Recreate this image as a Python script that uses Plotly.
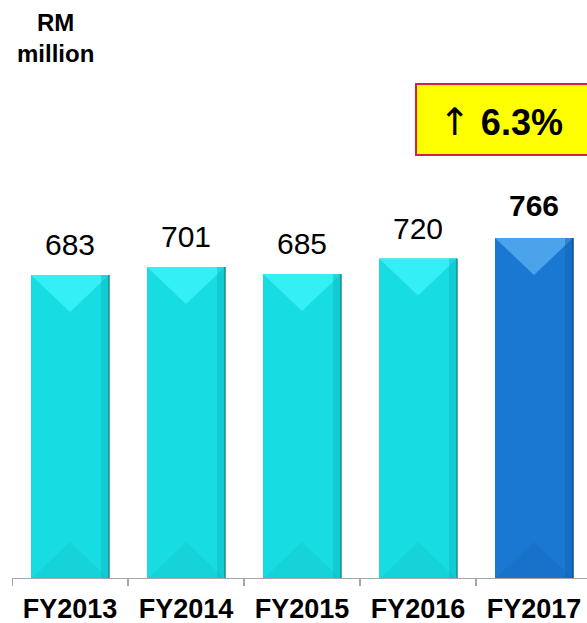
import plotly.graph_objects as go

# Revenue by financial year (RM million)
years = ["FY2013", "FY2014", "FY2015", "FY2016", "FY2017"]
revenue = [683, 701, 685, 720, 766]
growth_pct = "6.3%"

FONT = "Liberation Sans, Arial, sans-serif"

# Figure geometry
W, H = 587, 623
M_L, M_R, M_T, M_B = 12, 0, 60, 44
plot_w = W - M_L - M_R
plot_h = H - M_T - M_B
px_per_cat = 116.0
x_lo = -0.5
x_hi = x_lo + plot_w / px_per_cat
y_max = 1166.0
px_per_unit = plot_h / y_max
bar_w = 78 / px_per_cat

cyan = dict(face="#17dde3", top="#34eff5", bottom="#16d3d9", edge="#10b6be", line="#1b8a92")
blue = dict(face="#1a78d2", top="#4ba3ec", bottom="#1872ca", edge="#1262b2", line="#0d4a8a")
palette = [cyan] * (len(years) - 1) + [blue]

fig = go.Figure()
fig.add_trace(go.Bar(
    x=list(range(len(years))),
    y=revenue,
    width=bar_w,
    marker=dict(color=[p["face"] for p in palette], line=dict(width=0)),
    hoverinfo="skip",
))

shapes = []
annotations = []
bevel = 37 / px_per_unit          # depth of the bevel triangles in data units
edge_w = 8 / px_per_cat           # darker right edge strip
for i, (v, p) in enumerate(zip(revenue, palette)):
    x0, x1 = i - bar_w / 2, i + bar_w / 2
    # top bevel (lighter)
    shapes.append(dict(type="path", xref="x", yref="y",
                       path=f"M {x0} {v} L {x1} {v} L {i} {v - bevel} Z",
                       fillcolor=p["top"], line=dict(width=0), layer="above"))
    # bottom bevel (slightly darker)
    shapes.append(dict(type="path", xref="x", yref="y",
                       path=f"M {x0} 0 L {x1} 0 L {i} {bevel} Z",
                       fillcolor=p["bottom"], line=dict(width=0), layer="above"))
    # right shaded edge
    shapes.append(dict(type="rect", xref="x", yref="y",
                       x0=x1 - edge_w, x1=x1, y0=0, y1=v,
                       fillcolor=p["edge"], opacity=0.45, line=dict(width=0), layer="above"))
    shapes.append(dict(type="line", xref="x", yref="y",
                       x0=x1, x1=x1, y0=0, y1=v,
                       line=dict(color=p["line"], width=1.5), layer="above"))
    # value label
    last = i == len(revenue) - 1
    annotations.append(dict(
        x=i, y=v, xref="x", yref="y", xanchor="center", yanchor="bottom", showarrow=False,
        yshift=12 if not last else 14,
        text=f"<b>{v}</b>" if last else str(v),
        font=dict(family=FONT, size=30, color="#000000"),
    ))


def px_x(px):
    return (px - M_L) / plot_w


def px_y(py):
    return (H - M_B - py) / plot_h


# growth callout box
shapes.append(dict(type="rect", xref="paper", yref="paper",
                   x0=px_x(416), x1=px_x(600), y0=px_y(155), y1=px_y(84),
                   fillcolor="#ffff00", line=dict(color="#d21f4c", width=2), layer="above"))
annotations.append(dict(
    x=px_x(501), y=px_y(122), xref="paper", yref="paper",
    xanchor="center", yanchor="middle", showarrow=False,
    text=(f"<span style='font-family:DejaVu Sans;font-weight:normal;font-size:38px'>↑</span>"
          f" <b>{growth_pct}</b>"),
    font=dict(family=FONT, size=36, color="#000000"),
))

# unit label
annotations.append(dict(
    x=px_x(55), y=px_y(38), xref="paper", yref="paper",
    xanchor="center", yanchor="middle", showarrow=False,
    text="<b>RM<br>million</b>",
    font=dict(family=FONT, size=24, color="#000000"),
))

# baseline and category boundary ticks
shapes.append(dict(type="line", xref="paper", yref="y", x0=0, x1=1, y0=0, y1=0,
                   line=dict(color="#a6a6a6", width=2), layer="above"))
for b in range(len(years) + 1):
    xb = b - 0.5
    if xb <= x_hi:
        shapes.append(dict(type="line", xref="x", yref="paper",
                           x0=xb, x1=xb, y0=0, y1=-7 / plot_h,
                           line=dict(color="#a6a6a6", width=2), layer="above"))

fig.update_layout(
    width=W, height=H,
    margin=dict(l=M_L, r=M_R, t=M_T, b=M_B, pad=0, autoexpand=False),
    paper_bgcolor="white", plot_bgcolor="white",
    showlegend=False,
    shapes=shapes,
    annotations=annotations,
    xaxis=dict(
        type="linear", range=[x_lo, x_hi], automargin=False,
        tickmode="array", tickvals=list(range(len(years))),
        ticktext=[f"<b>{y}</b>" for y in years],
        ticks="", showgrid=False, zeroline=False, showline=False,
        ticklabelstandoff=11,
        tickfont=dict(family=FONT, size=27, color="#000000"),
    ),
    yaxis=dict(range=[0, y_max], visible=False, showgrid=False, zeroline=False),
)

fig.write_html("out.html")
